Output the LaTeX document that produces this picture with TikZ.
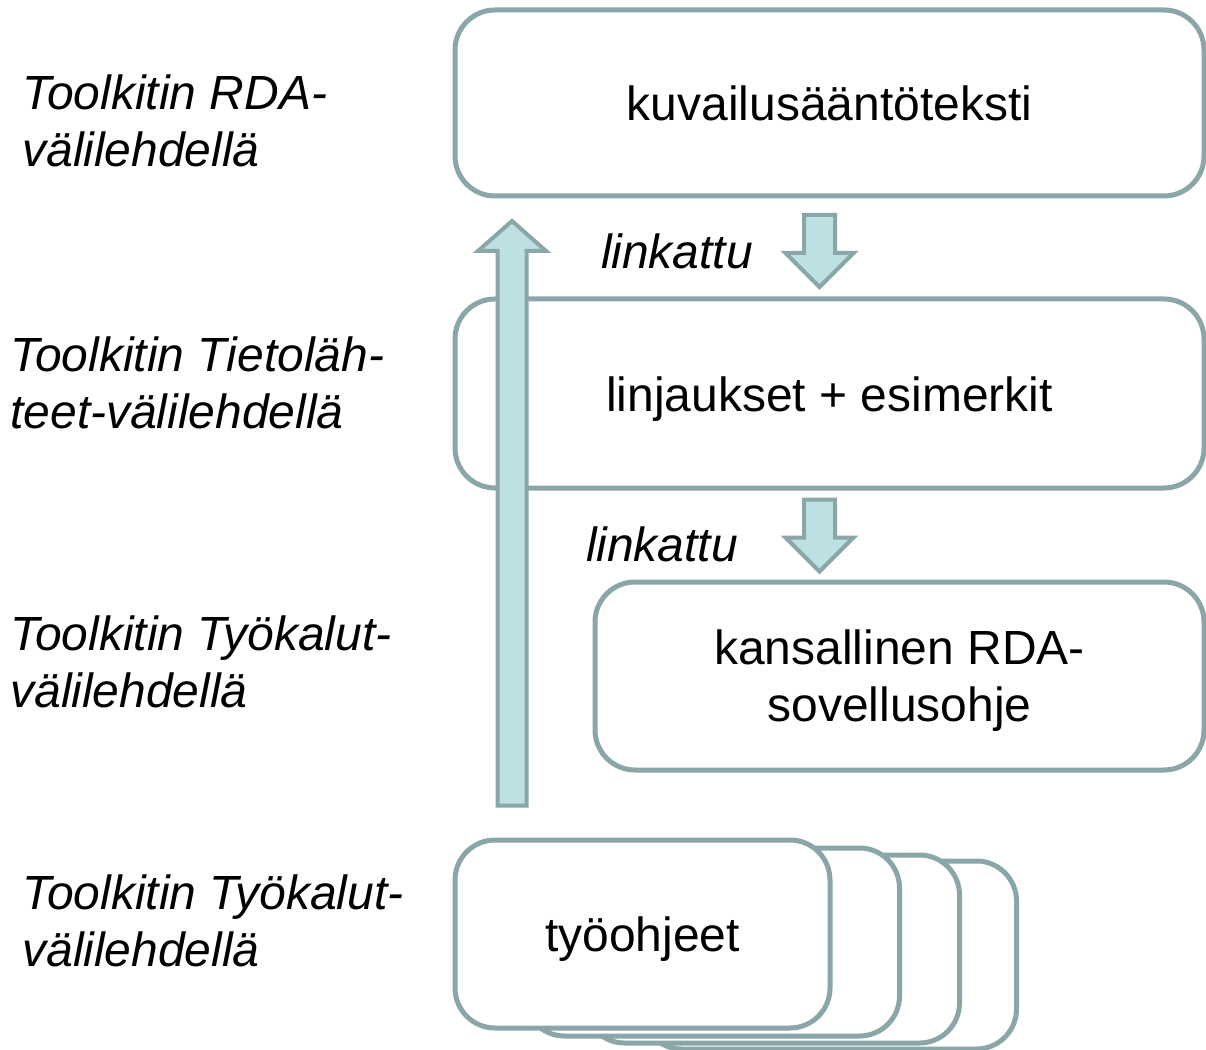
\documentclass[tikz,border=0pt]{standalone}
\usepackage{fontspec}
\setmainfont{Liberation Sans}
\usepackage{tikz}
\usetikzlibrary{calc}
\definecolor{rim}{HTML}{8AA6A8}
\definecolor{pale}{HTML}{BDE0E3}
\tikzset{
  box/.style={draw=rim, fill=white, line width=0.1cm, rounded corners=0.8cm,
    font=\fontsize{27.3}{32.4}\selectfont, align=center, inner sep=0pt,
    text height=27pt, text depth=7pt},
  blk/.style={draw=rim, fill=pale, line width=0.08cm, line join=miter},
  side/.style={font=\fontsize{27.3}{32.4}\selectfont\itshape, align=left, anchor=west, inner sep=0pt},
  lnk/.style={font=\fontsize{27.3}{32.4}\selectfont\itshape, inner sep=0pt}
}

\begin{document}
\begin{tikzpicture}[x=0.02cm, y=-0.02cm]
\useasboundingbox (0,0) rectangle (1206,1050);

% stack of work instructions, back to front
\node[box, minimum width=375*0.02cm, minimum height=188*0.02cm] (stack4) at (829,955) {};
\node[box, minimum width=375*0.02cm, minimum height=188*0.02cm] (stack3) at (772,949) {};
\node[box, minimum width=375*0.02cm, minimum height=188*0.02cm] (stack2) at (712,942) {};
\node[box, minimum width=375*0.02cm, minimum height=188*0.02cm] (stack1) at (642.5,934) {työohjeet};

% main boxes
\node[box, minimum width=749*0.02cm, minimum height=186*0.02cm] (rules) at (829.5,103) {kuvailusääntöteksti};
\node[box, minimum width=749*0.02cm, minimum height=189*0.02cm] (policy) at (829.5,393.5) {linjaukset + esimerkit};
\node[box, minimum width=609*0.02cm, minimum height=188*0.02cm, text height=, text depth=0pt] (national) at (899.5,676) {kansallinen RDA-\\sovellusohje};

% down arrows
\coordinate (d1) at (819.5,215);
\coordinate (d2) at (819.5,499.5);
\foreach \t in {d1,d2}
  \draw[blk] ($(\t)+(-15.5,0)$) -- ($(\t)+(15.5,0)$) -- ($(\t)+(15.5,38)$) -- ($(\t)+(34,38)$)
    -- ($(\t)+(0,72)$) -- ($(\t)+(-34,38)$) -- ($(\t)+(-15.5,38)$) -- cycle;

% up arrow
\coordinate (upfoot) at (512,805.5);
\coordinate (uptip) at (512,221);
\draw[blk] ($(upfoot)+(-14.5,0)$) -- ($(uptip)+(-14.5,30)$) -- ($(uptip)+(-34,30)$) -- (uptip)
  -- ($(uptip)+(34,30)$) -- ($(uptip)+(14.5,30)$) -- ($(upfoot)+(14.5,0)$) -- cycle;

\node[lnk] (l1) at (677,251) {linkattu};
\node[lnk] (l2) at (662,544) {linkattu};

% where each part is found
\node[side] (s1) at (22,121) {Toolkitin RDA-\\välilehdellä};
\node[side] (s2) at (10,383) {Toolkitin Tietoläh-\\teet-välilehdellä};
\node[side] (s3) at (10,662) {Toolkitin Työkalut-\\välilehdellä};
\node[side] (s4) at (22,921) {Toolkitin Työkalut-\\välilehdellä};
\end{tikzpicture}
\end{document}
